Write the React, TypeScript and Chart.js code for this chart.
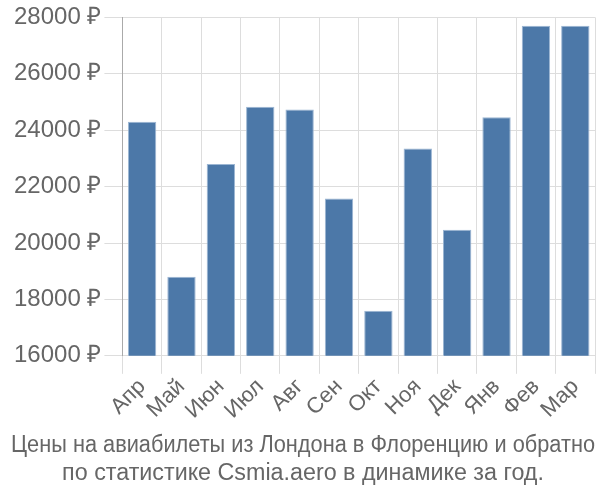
import React, { useEffect, useRef } from "react";
import { Chart, registerables } from "chart.js";

Chart.register(...registerables);

const months = ["Апр", "Май", "Июн", "Июл", "Авг", "Сен", "Окт", "Ноя", "Дек", "Янв", "Фев", "Мар"];
const prices = [24300, 18800, 22800, 24830, 24730, 21580, 17600, 23350, 20470, 24460, 27700, 27700];
const titleLines = [
  "Цены на авиабилеты из Лондона в Флоренцию и обратно",
  "по статистике Csmia.aero в динамике за год.",
];
const yMin = 16000;
const yMax = 28000;
const yStep = 2000;
const currency = " ₽";

export default function App() {
  const ref = useRef<HTMLCanvasElement | null>(null);
  useEffect(() => {
    document.body.style.margin = "0";
    if (!ref.current) return;
    const font = "'Liberation Sans', Arial, sans-serif";
    const chart = new Chart(ref.current, {
      type: "bar",
      data: {
        labels: months,
        datasets: [
          {
            data: prices,
            backgroundColor: "#4c78a8",
            borderColor: "#9cb6d3",
            borderWidth: 1,
            categoryPercentage: 0.8,
            barPercentage: 0.9,
          },
        ],
      },
      options: {
        animation: false,
        responsive: false,
        maintainAspectRatio: false,
        layout: { padding: { top: -2, right: 5, left: 11, bottom: 12 } },
        plugins: {
          legend: { display: false },
          tooltip: { enabled: false },
          title: {
            display: true,
            position: "bottom",
            text: titleLines,
            color: "#666",
            font: { family: font, size: 23.3, weight: "normal", lineHeight: 1.2 },
            padding: { top: 8, bottom: 0 },
          },
        },
        scales: {
          x: {
            grid: { color: "#ddd", lineWidth: 1, tickLength: 18, offset: true },
            border: { color: "#ddd" },
            ticks: {
              color: "#666",
              font: { family: font, size: 22 },
              maxRotation: 45,
              minRotation: 45,
              autoSkip: false,
              padding: 0,
            },
          },
          y: {
            min: yMin,
            max: yMax,
            grid: { color: "#ddd", lineWidth: 1, tickLength: 18 },
            border: { color: "#aaa" },
            ticks: {
              stepSize: yStep,
              color: "#666",
              font: { family: font, size: 24 },
              padding: 3,
              callback: (v: any) => v + currency,
            },
          },
        },
      },
    });
    return () => chart.destroy();
  }, []);
  return (
    <div style={{ width: 600, height: 500 }}>
      <canvas ref={ref} width={600} height={500} />
    </div>
  );
}
